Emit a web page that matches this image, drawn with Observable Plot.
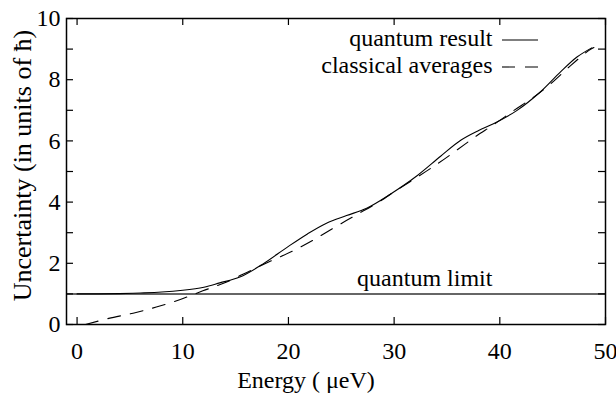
<!DOCTYPE html>
<html><head><meta charset="utf-8">
<script src="https://cdn.jsdelivr.net/npm/d3@7"></script>
<script src="https://cdn.jsdelivr.net/npm/@observablehq/plot@0.6"></script>
<style>body{margin:0;background:#fff}</style>
</head><body><div id="chart"></div>
<script>
const quantumE = [0, 2, 4, 6, 8, 10, 12, 13.5, 15.4, 17.6, 19.9, 21.8, 23.6, 25.5, 27.4, 29.6, 32.2, 34.4, 36.3, 38.0, 39.4, 41.6, 43.8, 45.7, 47.3, 48.7];
const quantumU = [1.00, 1.00, 1.01, 1.03, 1.06, 1.12, 1.22, 1.36, 1.55, 1.98, 2.53, 2.96, 3.31, 3.56, 3.80, 4.25, 4.87, 5.50, 6.02, 6.34, 6.56, 6.99, 7.59, 8.24, 8.74, 9.04];
const classicalE = [0.8, 3, 5.3, 7.5, 9.7, 11.9, 14.1, 16.4, 18.5, 20.5, 22.3, 24.4, 26.3, 28.3, 30.3, 32.2, 34.1, 35.9, 37.7, 39.5, 41.3, 43.2, 44.8, 46.7, 48.4, 48.9];
const classicalU = [0, 0.2, 0.37, 0.57, 0.81, 1.10, 1.38, 1.76, 2.10, 2.42, 2.75, 3.18, 3.56, 3.95, 4.40, 4.82, 5.25, 5.69, 6.14, 6.55, 6.99, 7.43, 7.86, 8.46, 8.95, 9.05];
const quantumLimit = [1];
const limitLabel = ["quantum limit"];
const limitLabelE = 32.9;
const xTicks = [0, 10, 20, 30, 40, 50];
const yTicks = [0, 1, 2, 3, 4, 5, 6, 7, 8, 9, 10];
const yLabelTicks = [0, 2, 4, 6, 8, 10];
const seriesNames = ["quantum result", "classical averages"];
const xLabel = "Energy ( μeV)";
const yLabel = "Uncertainty (in units of ħ)";

const quantum = quantumE.map((e, i) => ({e, u: quantumU[i]}));
const classical = classicalE.map((e, i) => ({e, u: classicalU[i]}));

const W = 616, H = 400;
const mt = 18, mr = 11, mb = 76, ml = 66;
const fw = W - ml - mr, fh = H - mt - mb, tk = 7;
const ff = "Liberation Serif";

const chart = Plot.plot({
  width: W, height: H,
  marginTop: mt, marginRight: mr, marginBottom: mb, marginLeft: ml,
  x: {domain: [-1, 50], axis: null},
  y: {domain: [0, 10], axis: null},
  marks: [
    Plot.ruleY(quantumLimit, {y: d => d, stroke: "#333", strokeWidth: 1.5}),
    Plot.line(quantum, {x: "e", y: "u", curve: "catmull-rom", stroke: "#000", strokeWidth: 1.1}),
    Plot.line(classical, {x: "e", y: "u", curve: "catmull-rom", stroke: "#000", strokeWidth: 1.1, strokeDasharray: "13,10"}),
    Plot.text(limitLabel, {x: limitLabelE, y: quantumLimit[0], text: d => d, textAnchor: "middle", lineAnchor: "bottom", dy: -8, fontSize: 24, fontFamily: ff, fill: "#000"}),
    Plot.frame({stroke: "#000", strokeWidth: 1.5}),
    Plot.tickX(xTicks, {x: d => d, insetTop: fh - tk, stroke: "#000", strokeWidth: 1.2}),
    Plot.tickX(xTicks, {x: d => d, insetBottom: fh - tk, stroke: "#000", strokeWidth: 1.2}),
    Plot.tickY(yTicks, {y: d => d, insetRight: fw - tk, stroke: "#000", strokeWidth: 1.2}),
    Plot.tickY(yTicks, {y: d => d, insetLeft: fw - tk, stroke: "#000", strokeWidth: 1.2}),
    // tick labels
    Plot.text(xTicks, {x: d => d, frameAnchor: "bottom", text: d => String(d), textAnchor: "middle", lineAnchor: "top", dy: 17, fontSize: 24, fontFamily: ff, fill: "#000"}),
    Plot.text(yLabelTicks, {y: d => d, frameAnchor: "left", text: d => String(d), textAnchor: "end", lineAnchor: "middle", dx: -6, fontSize: 24, fontFamily: ff, fill: "#000"}),
    // axis titles
    Plot.text([xLabel], {frameAnchor: "bottom", text: d => d, textAnchor: "middle", lineAnchor: "bottom", dx: -30, dy: 63, fontSize: 24, fontFamily: ff, fill: "#000"}),
    Plot.text([yLabel], {frameAnchor: "left", text: d => d, rotate: -90, textAnchor: "middle", lineAnchor: "bottom", dx: -36, dy: -6, fontSize: 26, fontFamily: ff, fill: "#000"}),
    // legend labels
    Plot.text([seriesNames[0]], {frameAnchor: "top-right", text: d => d, textAnchor: "end", lineAnchor: "bottom", dx: -113, dy: 27, fontSize: 24, fontFamily: ff, fill: "#000"}),
    Plot.text([seriesNames[1]], {frameAnchor: "top-right", text: d => d, textAnchor: "end", lineAnchor: "bottom", dx: -113, dy: 54, fontSize: 24, fontFamily: ff, fill: "#000"})
  ]
});

// legend line samples
const svg = d3.select(chart);
const right = W - mr;
seriesNames.forEach((name, i) => {
  const y = mt + 22 + i * 27;
  svg.append("line").attr("x1", right - 103).attr("x2", right - 67)
    .attr("y1", y).attr("y2", y).attr("stroke", "#000").attr("stroke-width", 1.1)
    .attr("stroke-dasharray", i === 1 ? "13,10" : null);
});

document.getElementById("chart").appendChild(chart);
</script>
</body></html>
